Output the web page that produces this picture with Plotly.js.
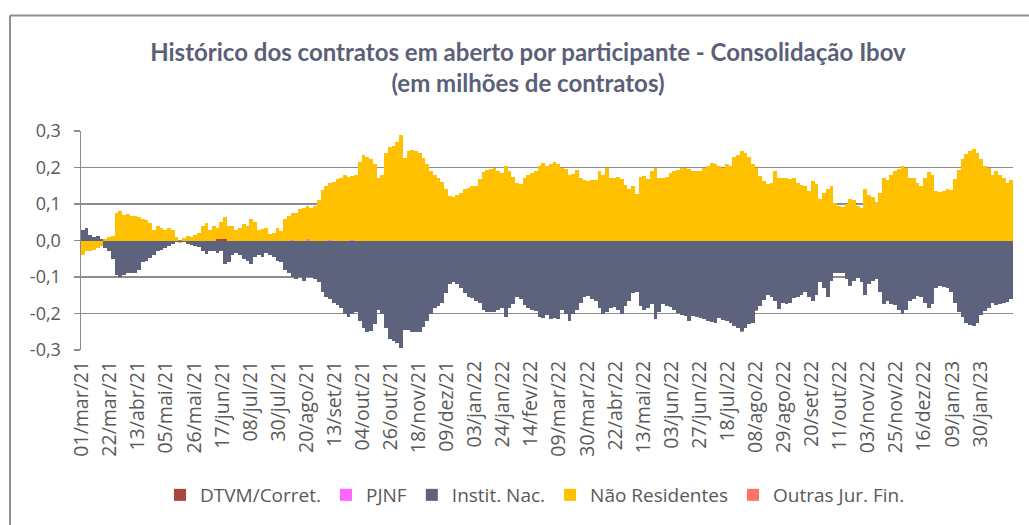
<!DOCTYPE html>
<html>
<head>
<meta charset="utf-8">
<script src="https://cdn.plot.ly/plotly-3.0.1.min.js"></script>
<style>
html,body{margin:0;padding:0;background:#fff;}
#chart{width:1029px;height:525px;}
</style>
</head>
<body>
<div id="chart"></div>
<script>
// Tick labels of the category axis (one every 15 trading days)
const tickLabels = ["01/mar/21","22/mar/21","13/abr/21","05/mai/21","26/mai/21","17/jun/21","08/jul/21","30/jul/21","20/ago/21","13/set/21","04/out/21","26/out/21","18/nov/21","09/dez/21","03/jan/22","24/jan/22","14/fev/22","09/mar/22","30/mar/22","22/abr/22","13/mai/22","03/jun/22","27/jun/22","18/jul/22","08/ago/22","29/ago/22","20/set/22","11/out/22","03/nov/22","25/nov/22","16/dez/22","09/jan/23","30/jan/23"];
const yTickVals = [-0.3,-0.2,-0.1,0,0.1,0.2,0.3];
const yTickText = ["-0,3","-0,2","-0,1","0,0","0,1","0,2","0,3"];

// Values sampled every 2 trading days (millions of contracts)
const naoResidentes = [
-0.04,-0.03,-0.028,-0.025,-0.02,-0.015,0.003,0.01,0.012,0.075,
0.08,0.07,0.072,0.068,0.066,0.064,0.06,0.055,0.048,0.03,
0.04,0.035,0.03,0.035,0.028,0.01,-0.003,0.008,0.012,0.01,
0.015,0.02,0.04,0.048,0.03,0.04,0.032,0.045,0.062,0.04,
0.04,0.03,0.035,0.045,0.04,0.058,0.05,0.03,0.032,0.035,
0.018,0.02,0.035,0.025,0.06,0.068,0.072,0.076,0.085,0.09,
0.092,0.088,0.095,0.11,0.138,0.15,0.155,0.16,0.168,0.17,
0.18,0.175,0.175,0.18,0.215,0.235,0.228,0.222,0.21,0.17,
0.18,0.24,0.255,
0.26,0.27,0.29,0.225,0.245,0.248,0.245,0.24,0.225,0.21,
0.19,0.18,0.172,0.16,0.14,0.122,0.12,0.125,0.13,0.142,
0.145,0.148,0.15,0.168,0.188,0.192,0.195,0.2,0.19,0.185,
0.205,0.19,0.175,0.158,0.155,0.172,0.18,0.185,0.19,0.205,
0.212,0.205,
0.21,0.215,0.21,0.2,0.195,0.18,0.182,0.192,0.172,0.165,
0.162,0.165,0.166,0.19,0.18,0.198,0.172,0.17,0.175,0.168,
0.152,0.14,0.15,0.128,0.175,0.176,0.168,0.19,0.198,0.172,
0.17,0.175,0.185,0.19,0.192,0.198,0.2,0.195,0.19,0.19,
0.19,0.2,0.205,
0.212,0.21,0.205,0.2,0.21,0.205,0.228,0.235,0.244,0.24,
0.228,0.21,0.2,0.178,0.162,0.155,0.158,0.19,0.172,0.172,
0.17,0.168,0.17,0.158,0.152,0.15,0.135,0.162,0.155,0.115,
0.13,0.14,0.148,0.103,0.095,0.092,0.1,0.115,0.11,0.095,
0.09,0.14,0.125,
0.118,0.105,0.13,0.17,0.165,0.18,0.19,0.195,0.205,0.2,
0.172,0.17,0.158,0.148,0.17,0.188,0.18,0.135,0.133,0.137,
0.14,0.138,0.168,0.192,0.222,0.238,0.244,0.25,0.24,0.222,
0.205,0.2,0.18,0.19,0.18,0.172,0.158,0.165];

const institNac = [
0.03,0.035,0.015,0.01,0.012,0.005,-0.02,-0.03,-0.05,-0.095,
-0.1,-0.095,-0.09,-0.09,-0.088,-0.08,-0.06,-0.055,-0.048,-0.04,
-0.03,-0.025,-0.02,-0.016,-0.01,-0.005,-0.003,-0.004,-0.01,-0.012,
-0.014,-0.018,-0.028,-0.038,-0.03,-0.03,-0.035,-0.03,-0.065,-0.06,
-0.04,-0.035,-0.04,-0.05,-0.055,-0.065,-0.045,-0.04,-0.045,-0.035,
-0.04,-0.045,-0.055,-0.06,-0.08,-0.09,-0.1,-0.105,-0.1,-0.11,
-0.1,-0.1,-0.105,-0.115,-0.14,-0.155,-0.16,-0.172,-0.178,-0.185,
-0.2,-0.21,-0.2,-0.195,-0.22,-0.24,-0.25,-0.248,-0.23,-0.19,
-0.2,-0.24,-0.27,
-0.275,-0.28,-0.295,-0.245,-0.245,-0.25,-0.252,-0.25,-0.238,-0.22,
-0.2,-0.185,-0.18,-0.17,-0.145,-0.118,-0.115,-0.118,-0.13,-0.145,
-0.155,-0.157,-0.165,-0.17,-0.19,-0.197,-0.195,-0.197,-0.19,-0.185,
-0.21,-0.185,-0.175,-0.155,-0.16,-0.178,-0.185,-0.19,-0.193,-0.21,
-0.212,-0.205,
-0.215,-0.212,-0.215,-0.19,-0.2,-0.22,-0.2,-0.19,-0.17,-0.155,
-0.152,-0.16,-0.165,-0.185,-0.2,-0.195,-0.185,-0.183,-0.19,-0.2,
-0.18,-0.165,-0.145,-0.14,-0.18,-0.19,-0.185,-0.175,-0.215,-0.195,
-0.175,-0.18,-0.182,-0.19,-0.198,-0.205,-0.208,-0.22,-0.208,-0.21,
-0.212,-0.215,-0.22,
-0.222,-0.225,-0.212,-0.218,-0.22,-0.225,-0.235,-0.24,-0.248,-0.24,
-0.228,-0.225,-0.19,-0.18,-0.163,-0.15,-0.155,-0.165,-0.188,-0.172,
-0.175,-0.17,-0.158,-0.155,-0.148,-0.14,-0.155,-0.165,-0.148,-0.115,
-0.13,-0.155,-0.11,-0.09,-0.088,-0.09,-0.105,-0.125,-0.11,-0.102,
-0.115,-0.15,-0.118,
-0.11,-0.105,-0.14,-0.175,-0.165,-0.175,-0.178,-0.19,-0.2,-0.19,
-0.165,-0.16,-0.152,-0.155,-0.17,-0.185,-0.175,-0.13,-0.125,-0.128,
-0.13,-0.14,-0.17,-0.195,-0.21,-0.225,-0.232,-0.235,-0.225,-0.205,
-0.192,-0.185,-0.17,-0.178,-0.175,-0.172,-0.168,-0.16];

// Minor participants: sample index and value (nearly zero elsewhere)
const dtvmIdx = [36,37,38];
const dtvmVal = [0.003,0.005,0.003];
const pjnfIdx = [56,60,66,72];
const pjnfVal = [0.002,0.003,0.002,0.002];
const outrasIdx = [176,180];
const outrasVal = [-0.002,-0.002];

const STEP = 2; // trading days per sample
const pos = k => k*STEP + (STEP-1)/2;
const xMain = naoResidentes.map((_,k)=>pos(k));

const TXT = '#595959';
const GRID = '#8c8c8c';
const FONT = 'Open Sans, DejaVu Sans, sans-serif';

const traces = [
  {type:'bar', name:'DTVM/Corret.', x:dtvmIdx.map(pos), y:dtvmVal, width:STEP, marker:{color:'#A9443F',line:{width:0}}},
  {type:'bar', name:'PJNF', x:pjnfIdx.map(pos), y:pjnfVal, width:STEP, marker:{color:'#FF66FF',line:{width:0}}},
  {type:'bar', name:'Instit. Nac.', x:xMain, y:institNac, width:STEP, marker:{color:'#5D627D',line:{width:0}}},
  {type:'bar', name:'Não Residentes', x:xMain, y:naoResidentes, width:STEP, marker:{color:'#FFC000',line:{width:0}}},
  {type:'bar', name:'Outras Jur. Fin.', x:outrasIdx.map(pos), y:outrasVal, width:STEP, marker:{color:'#FF7366',line:{width:0}}}
];

const L = 81, R = 16, T = 131, B = 174;
const W = 1029 - L - R, H = 525 - T - B;
const px2x = p => (p - L)/W;
const py2y = p => (525 - B - p)/H;

const layout = {
  width:1029, height:525,
  margin:{l:L, r:R, t:T, b:B, pad:0},
  paper_bgcolor:'#fff', plot_bgcolor:'#fff',
  barmode:'relative', bargap:0,
  font:{family:FONT, color:TXT, size:18},
  showlegend:true,
  title:{text:'Histórico dos contratos em aberto por participante - Consolidação Ibov<br>(em milhões de contratos)',
    font:{family:'Liberation Sans Narrow, Lato, sans-serif', size:24, color:'#5B6079', weight:'bold'},
    x:528/1029, xref:'container', xanchor:'center', y:1-61/525, yref:'container', yanchor:'top'},
  xaxis:{
    range:[-0.5, naoResidentes.length*STEP - 0.5],
    tickmode:'array',
    tickvals:tickLabels.map((_,i)=>i*15),
    ticktext:tickLabels,
    tickangle:-90,
    showgrid:false, zeroline:false,
    showline:false, ticks:'',
    ticklabelstandoff:6,
    tickfont:{family:FONT, size:19.5, color:TXT},
    fixedrange:true
  },
  yaxis:{
    range:[-0.3,0.3],
    tickmode:'array', tickvals:yTickVals, ticktext:yTickText,
    showgrid:true, gridcolor:GRID, gridwidth:1.5,
    zeroline:true, zerolinecolor:GRID, zerolinewidth:1.5,
    showline:true, linecolor:GRID, linewidth:1.5,
    ticks:'outside', ticklen:6, tickcolor:GRID, tickwidth:1.5,
    ticklabelstandoff:9,
    tickfont:{family:FONT, size:18, color:TXT},
    fixedrange:true
  },
  legend:{orientation:'h', x:px2x(160), xanchor:'left', y:py2y(495), yanchor:'middle',
    font:{family:FONT, size:19, color:TXT}, traceorder:'normal', itemclick:false},
  shapes:[
    {type:'line', xref:'paper', yref:'paper', x0:px2x(10), x1:px2x(1040), y0:py2y(15), y1:py2y(15), line:{color:'#8f8f8f', width:2}},
    {type:'line', xref:'paper', yref:'paper', x0:px2x(10), x1:px2x(10), y0:py2y(15), y1:py2y(540), line:{color:'#8f8f8f', width:2}}
  ]
};

Plotly.newPlot('chart', traces, layout, {displayModeBar:false, staticPlot:true});
</script>
</body>
</html>
